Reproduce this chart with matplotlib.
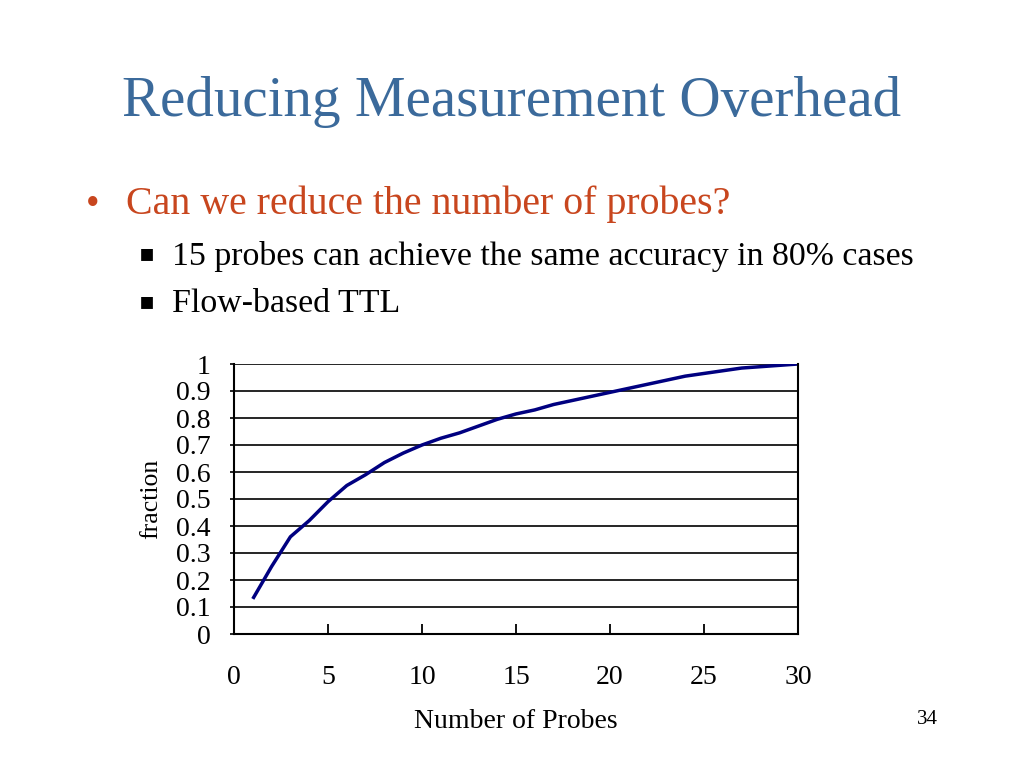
import matplotlib
matplotlib.use("Agg")
import matplotlib.pyplot as plt

probes = list(range(1, 31))
fraction = [0.13, 0.25, 0.36, 0.42, 0.49, 0.55, 0.59, 0.635, 0.67, 0.70,
            0.725, 0.745, 0.77, 0.795, 0.815, 0.83, 0.85, 0.865, 0.88, 0.895,
            0.91, 0.925, 0.94, 0.955, 0.965, 0.975, 0.985, 0.99, 0.995, 1.0]
xticks = [0, 5, 10, 15, 20, 25, 30]
yticks = [0, 0.1, 0.2, 0.3, 0.4, 0.5, 0.6, 0.7, 0.8, 0.9, 1]
ytick_labels = ["0", "0.1", "0.2", "0.3", "0.4", "0.5", "0.6", "0.7", "0.8", "0.9", "1"]

title = "Reducing Measurement Overhead"
bullet = "Can we reduce the number of probes?"
subbullets = ["15 probes can achieve the same accuracy in 80% cases", "Flow-based TTL"]

plt.rcParams['font.family'] = ['Liberation Serif', 'DejaVu Serif']

fig = plt.figure(figsize=(10.24, 7.68), dpi=100)
fig.patch.set_facecolor("white")

fig.text(512 / 1024, 1 - 102 / 768, title, ha="center", va="center",
         fontsize=41, color="#3b6a9b")
fig.text(86 / 1024, 1 - 206 / 768, "•", ha="left", va="center",
         fontsize=28, color="#c8461e")
fig.text(126 / 1024, 1 - 204 / 768, bullet, ha="left", va="center",
         fontsize=28.7, color="#c8461e")
for i, s in enumerate(subbullets):
    y = 1 - (256 + 48 * i) / 768
    fig.text(139 / 1024, y + 0.004, "\u25aa", ha="left", va="center", fontsize=17,
             color="black", family=['DejaVu Sans'])
    fig.text(172 / 1024, y, s, ha="left", va="center", fontsize=24.4, color="black")
fig.text(927 / 1024, 1 - 720 / 768, "34", ha="center", va="center",
         fontsize=15, color="black")

ax = fig.add_axes([234 / 1024, 1 - 634 / 768, (798 - 234) / 1024, (634 - 364) / 768])
ax.plot(probes, fraction, color="#000080", lw=2.5, solid_capstyle="butt")
ax.set_xlim(0, 30)
ax.set_ylim(0, 1)
ax.set_xticks(xticks)
ax.set_yticks(yticks)
ax.set_yticklabels(ytick_labels)
ax.yaxis.grid(True, color="black", lw=1.2)
ax.set_axisbelow(True)
for sp in ["left", "bottom", "right"]:
    ax.spines[sp].set_color("black")
    ax.spines[sp].set_linewidth(1.5)
ax.spines["top"].set_visible(False)
ax.tick_params(axis="x", direction="in", length=7, width=1.3, pad=22, labelsize=20)
ax.tick_params(axis="y", direction="out", length=3, width=1.2, pad=14, labelsize=20)
ax.set_xlabel("Number of Probes", fontsize=20, labelpad=14)
ax.set_ylabel("fraction", fontsize=18.5, labelpad=10)

fig.savefig("out.png", dpi=100)
